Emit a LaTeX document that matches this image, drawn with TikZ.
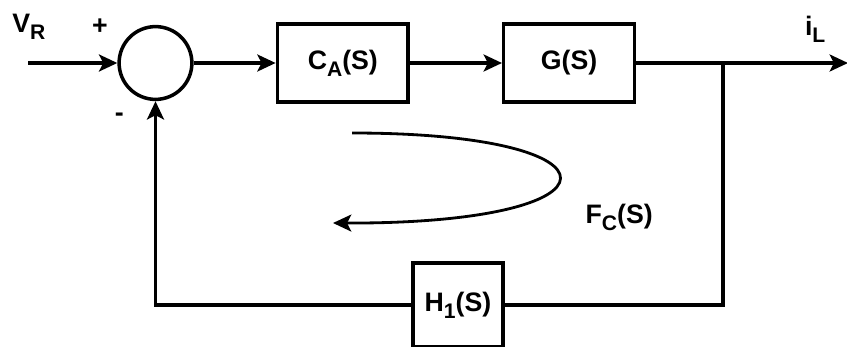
\documentclass[tikz,border=0pt]{standalone}
\usepackage{fontspec}
\setmainfont{Liberation Sans}
\usetikzlibrary{arrows.meta,positioning}
\tikzset{
  blockbox/.style={
    rectangle, draw=black, line width=2.5pt, fill=white,
    minimum width=3.27cm, minimum height=1.95cm,
    font=\fontsize{19}{22}\selectfont\bfseries
  },
  sumnode/.style={
    circle, draw=black, line width=2.5pt, minimum size=1.82cm, inner sep=0pt
  },
  sigArrow/.style={-{Stealth[length=13pt,width=12pt,inset=3pt]}, line width=2.5pt},
  sigLine/.style={line width=2.5pt},
  siglabel/.style={font=\fontsize{19}{22}\selectfont\bfseries, inner sep=0pt}
}
\newcommand{\sub}[1]{\raisebox{-0.5ex}{\fontsize{15}{17}\selectfont #1}}

\begin{document}
\begin{tikzpicture}
  \useasboundingbox (0,0) rectangle (21.175,8.65);
  % summing junction and forward path
  \node[sumnode] (sum) at (3.8875,7.075) {};
  \node[blockbox, right=2.05cm of sum] (ca) {C\sub{A}(S)};
  \node[blockbox, right=2.3cm of ca] (g) {G(S)};
  \node[blockbox, minimum width=2.25cm, minimum height=2.1cm] (h1)
    at (11.45,1.025) {H\sub{1}(S)};
  \coordinate (vin) at (0.7,7.075);
  \coordinate (branch) at (18.075,7.075);
  \coordinate (iout) at (21.2,7.075);
  % labels
  \node[siglabel] (vr) at (0.72,7.98) {V\sub{R}};
  \node[siglabel] (plus) at (2.5,7.98) {+};
  \node[siglabel] (minus) at (2.98,5.72) {-};
  \node[siglabel] (il) at (20.38,7.92) {i\sub{L}};
  \node[siglabel] (fc) at (15.48,3.22) {F\sub{C}(S)};
  % connectors
  \draw[sigArrow] (vin) -- (sum.west);
  \draw[sigArrow] (sum.east) -- (ca.west);
  \draw[sigArrow] (ca.east) -- (g.west);
  \draw[sigArrow] (g.east) -- (iout);
  \draw[sigLine] (branch) |- (h1.east);
  \draw[sigArrow] (h1.west) -| (sum.south);
  % loop gain arrow
  \coordinate (fcstart) at (8.8,5.325);
  \coordinate (fcend) at (8.325,3.075);
  \draw[sigArrow, line width=2pt] (fcstart) .. controls (15.775,5.325) and (15.775,3.05) .. (fcend);
\end{tikzpicture}
\end{document}
